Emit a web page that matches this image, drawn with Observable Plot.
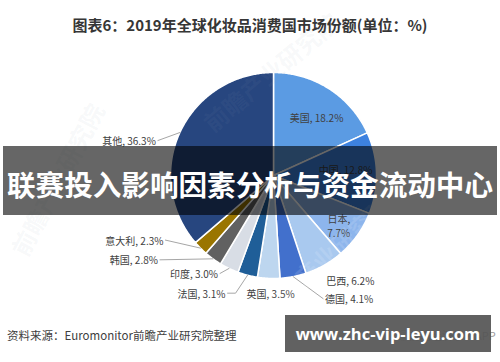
<!DOCTYPE html>
<html><head><meta charset="utf-8">
<script src="https://cdn.jsdelivr.net/npm/d3@7"></script>
<script src="https://cdn.jsdelivr.net/npm/@observablehq/plot@0.6"></script>
<style>
html,body{margin:0;padding:0;background:#fff;}
#wrap{position:relative;width:500px;height:362px;overflow:hidden;font-family:"Noto Sans CJK SC","Noto Sans",sans-serif;}
#chart{position:absolute;left:0;top:0;}
#title{position:absolute;top:14px;left:0;width:500px;text-align:center;font-weight:bold;font-size:15px;line-height:22px;color:#363636;}
#banner{position:absolute;left:3px;top:146px;width:494px;height:69px;background:rgba(0,0,0,0.6);color:#fff;font-weight:bold;font-size:28.6px;line-height:69px;text-align:center;white-space:nowrap;padding-top:3px;box-sizing:border-box;}
#source{position:absolute;left:7px;top:326px;font-size:11.5px;line-height:18px;color:#404040;white-space:nowrap;}
#app{position:absolute;left:398px;top:326px;font-size:11px;line-height:18px;color:#9a9a9a;white-space:nowrap;}
#wm{position:absolute;left:285px;top:315px;width:206px;height:37px;background:rgba(85,85,85,0.93);color:#fff;font-family:"Open Sans","DejaVu Sans",sans-serif;font-weight:bold;font-size:16.5px;line-height:37px;text-align:center;}
.ghost{position:absolute;font-weight:bold;font-size:24px;color:rgba(150,160,175,0.08);white-space:nowrap;transform-origin:left top;}
</style>
</head><body>
<div id="wrap">
  <div id="chart"></div>
  <div class="ghost" style="left:195px;top:112px;transform:rotate(-40deg);">前瞻产业研究院</div>
  <div class="ghost" style="left:2px;top:245px;transform:rotate(-62deg);">前瞻产业研究院</div>
  <div class="ghost" style="left:250px;top:300px;transform:rotate(-42deg);color:rgba(255,255,255,0.12)">前瞻产业研究院</div>
  <div id="title">图表6：2019年全球化妆品消费国市场份额(单位：%)</div>
  <div id="banner">联赛投入影响因素分析与资金流动中心</div>
  <div id="source">资料来源：Euromonitor前瞻产业研究院整理</div>
  <div id="app">◎前瞻经济学人APP</div>
  <div id="wm">www.zhc-vip-leyu.com</div>
</div>
<script>
// ---- data ----
const countries = ["美国","中国","日本","巴西","德国","英国","法国","印度","韩国","意大利","其他"];
const shares    = [18.2, 12.8, 7.7, 6.2, 4.1, 3.5, 3.1, 3.0, 2.8, 2.3, 36.3];
const sliceColors = ["#5B9BE3","#3D82E0","#8DB5EC","#A9C9EF","#4270CC","#BDD6EF","#1F5E98","#D8DDE5","#616161","#9A7500","#27467F"];

// ---- layout (not data) ----
const cx = 273, cy = 175, R = 103;
const labelLayout = {
  "美国": {inside:true, k:0.7, dx:4, dy:3},
  "中国": {inside:true, k:0.7, dx:0, dy:-4},
  "日本": {inside:true, k:0.79, dx:-1, dy:3, wrap:true},
  "巴西": {dx:2, dy:15, anchor:"start"},
  "德国": {dx:32, dy:22, anchor:"start", line:true},
  "英国": {dx:2, dy:15, anchor:"middle"},
  "法国": {dx:-22, dy:18, anchor:"end", line:true, elbow:8},
  "印度": {dx:-11, dy:5, anchor:"end", line:true},
  "韩国": {dx:-55, dy:1, anchor:"end", line:true},
  "意大利": {dx:-37, dy:-8, anchor:"end", line:true},
  "其他": {dx:-24, dy:8, anchor:"end", line:true}
};

const arcs = d3.pie().sort(null).value(d => d)(shares);
const slices = arcs.map((a, i) => ({
  name: countries[i], value: shares[i], color: sliceColors[i],
  a0: a.startAngle, a1: a.endAngle, mid: (a.startAngle + a.endAngle) / 2
}));
const pt = (ang, r) => [cx + r * Math.sin(ang), cy - r * Math.cos(ang)];

const polyPts = slices.flatMap(s => {
  const n = Math.max(2, Math.ceil((s.a1 - s.a0) / 0.01));
  const pts = [{name: s.name, color: s.color, x: cx, y: cy}];
  for (let k = 0; k <= n; k++) {
    const [x, y] = pt(s.a0 + (s.a1 - s.a0) * k / n, R);
    pts.push({name: s.name, color: s.color, x, y});
  }
  pts.push({name: s.name, color: s.color, x: cx, y: cy});
  return pts;
});

const labels = slices.map(s => {
  const L = labelLayout[s.name];
  const txt = L.wrap ? `${s.name},\n${s.value.toFixed(1)}%` : `${s.name}, ${s.value.toFixed(1)}%`;
  if (L.inside) {
    const [x, y] = pt(s.mid, R * L.k);
    return {name: s.name, text: txt, x: x + L.dx, y: y + L.dy, anchor: "middle"};
  }
  const [ex, ey] = pt(s.mid, R);
  return {name: s.name, text: txt, x: ex + L.dx, y: ey + L.dy, anchor: L.anchor, ex, ey};
});

const leaderPts = labels.filter(l => labelLayout[l.name].line).flatMap(l => {
  const L = labelLayout[l.name];
  const sx = l.anchor === "end" ? l.x + 2 : l.x - 2;
  const out = [{name: l.name, x: sx, y: l.y}];
  if (L.elbow) out.push({name: l.name, x: sx + L.elbow, y: l.y});
  out.push({name: l.name, x: l.ex, y: l.ey});
  return out;
});

const textOpts = a => ({x: "x", y: "y", text: "text", textAnchor: a, fill: "#404040", fontSize: 10, lineHeight: 1.4});

const chart = Plot.plot({
  width: 500, height: 362, margin: 0,
  x: {domain: [0, 500], range: [0, 500], axis: null},
  y: {domain: [0, 362], range: [0, 362], axis: null},
  color: {type: "identity"},
  style: {background: "transparent", fontFamily: '"Noto Sans CJK SC", "Noto Sans", sans-serif'},
  marks: [
    Plot.line(polyPts, {x: "x", y: "y", z: "name", fill: "color", stroke: "white", strokeWidth: 1.5, strokeLinejoin: "round", curve: "linear"}),
    Plot.line(leaderPts, {x: "x", y: "y", z: "name", stroke: "#a6a6a6", strokeWidth: 1}),
    Plot.text(labels.filter(l => l.anchor === "middle"), textOpts("middle")),
    Plot.text(labels.filter(l => l.anchor === "start"), textOpts("start")),
    Plot.text(labels.filter(l => l.anchor === "end"), textOpts("end"))
  ]
});
document.getElementById("chart").appendChild(chart);
</script>
</body></html>
